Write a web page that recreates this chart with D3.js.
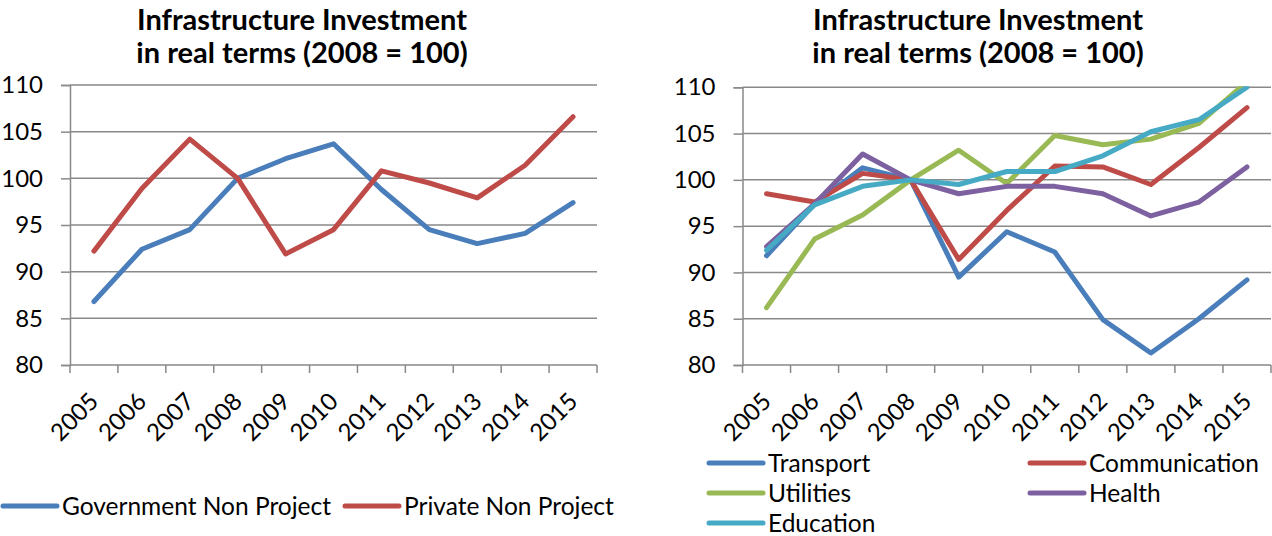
<!DOCTYPE html>
<html>
<head>
<meta charset="utf-8">
<script src="https://cdn.jsdelivr.net/npm/d3@7"></script>
<style>
  html, body { margin: 0; padding: 0; background: #fff; }
  svg { display: block; font-family: Lato, "Open Sans", sans-serif; }
</style>
</head>
<body>
<svg id="chart" width="1272" height="536"></svg>
<script>
// ---------- data ----------
const years = ["2005","2006","2007","2008","2009","2010","2011","2012","2013","2014","2015"];
const yTickValues = [80, 85, 90, 95, 100, 105, 110];
const titleLines = ["Infrastructure Investment", "in real terms (2008 = 100)"];

const governmentNonProject = [86.8, 92.4, 94.5, 100, 102.1, 103.7, 98.8, 94.5, 93.0, 94.1, 97.4];
const privateNonProject    = [92.2, 98.9, 104.2, 100, 91.9, 94.5, 100.8, 99.5, 97.9, 101.4, 106.6];

const transport     = [91.8, 97.4, 101.3, 100, 89.5, 94.4, 92.2, 84.9, 81.3, 85.0, 89.2];
const communication = [98.5, 97.6, 100.7, 100, 91.4, 96.7, 101.5, 101.4, 99.5, 103.5, 107.8];
const utilities     = [86.2, 93.6, 96.2, 100, 103.2, 99.6, 104.8, 103.8, 104.4, 106.1, 110.6];
const health        = [92.8, 97.4, 102.8, 100, 98.5, 99.3, 99.3, 98.5, 96.1, 97.6, 101.4];
const education     = [92.4, 97.3, 99.3, 100, 99.5, 100.9, 100.9, 102.6, 105.2, 106.5, 110.0];

const leftSeries = [
  { name: "Government Non Project", values: governmentNonProject, color: "#4A7EBB" },
  { name: "Private Non Project",    values: privateNonProject,    color: "#BE4B48" }
];
const rightSeries = [
  { name: "Transport",     values: transport,     color: "#4A7EBB" },
  { name: "Communication", values: communication, color: "#BE4B48" },
  { name: "Utilities",     values: utilities,     color: "#98B954" },
  { name: "Health",        values: health,        color: "#7D60A0" },
  { name: "Education",     values: education,     color: "#46AAC5" }
];

// ---------- drawing ----------
const svg = d3.select("#chart");
const GRID = "#898989";

function drawChart(cfg, id) {
  const g = svg.append("g");
  const x = d3.scaleBand().domain(years).range([cfg.left, cfg.right]).padding(0);
  const y = d3.scaleLinear().domain([80, 110]).range([cfg.bottom, cfg.top]);
  const cx = d => x(d) + x.bandwidth() / 2;

  // title
  const t = g.append("text")
    .attr("x", cfg.titleX).attr("text-anchor", "middle")
    .style("font-weight", "bold").style("font-size", "29px").attr("fill", "#000");
  t.append("tspan").attr("x", cfg.titleX).attr("y", 30).text(titleLines[0]);
  t.append("tspan").attr("x", cfg.titleX).attr("y", 63).text(titleLines[1]);

  // gridlines
  g.append("g").selectAll("line").data(yTickValues.filter(v => v !== 80)).join("line")
    .attr("x1", cfg.left).attr("x2", cfg.right)
    .attr("y1", d => y(d)).attr("y2", d => y(d))
    .attr("stroke", GRID).attr("stroke-width", 1.5);

  // y axis
  const yAxis = g.append("g").attr("transform", `translate(${cfg.left},0)`)
    .call(d3.axisLeft(y).tickValues(yTickValues).tickSize(9).tickPadding(18));
  yAxis.select(".domain").attr("stroke", GRID).attr("stroke-width", 1.5);
  yAxis.selectAll(".tick line").attr("stroke", GRID).attr("stroke-width", 1.5);
  yAxis.selectAll(".tick text").style("font-size", "24px").attr("fill", "#000")
    .style("font-family", "Lato, 'Open Sans', sans-serif");

  // x axis
  const xg = g.append("g");
  xg.append("line").attr("x1", cfg.left).attr("x2", cfg.right)
    .attr("y1", cfg.bottom).attr("y2", cfg.bottom)
    .attr("stroke", GRID).attr("stroke-width", 1.5);
  const bounds = years.map(d => x(d)).concat([x(years[years.length - 1]) + x.bandwidth()]);
  xg.selectAll("line.tk").data(bounds).join("line").attr("class", "tk")
    .attr("x1", d => d).attr("x2", d => d)
    .attr("y1", cfg.bottom).attr("y2", cfg.bottom + 8)
    .attr("stroke", GRID).attr("stroke-width", 1.5);
  xg.selectAll("text").data(years).join("text")
    .attr("transform", d => `translate(${cx(d) + 6},${cfg.bottom + 38}) rotate(-45)`)
    .attr("text-anchor", "end").style("font-size", "24px").attr("fill", "#000")
    .text(d => d);

  // clip
  svg.append("defs").append("clipPath").attr("id", id)
    .append("rect").attr("x", cfg.left).attr("y", cfg.top - 1)
    .attr("width", cfg.right - cfg.left).attr("height", cfg.bottom - cfg.top + 1);

  const line = d3.line().x((v, i) => cx(years[i])).y(v => y(v));
  g.append("g").attr("clip-path", `url(#${id})`)
    .selectAll("path").data(cfg.series).join("path")
    .attr("d", s => line(s.values))
    .attr("fill", "none").attr("stroke", s => s.color)
    .attr("stroke-width", 5).attr("stroke-linejoin", "round").attr("stroke-linecap", "round");

  // legend
  const lg = g.append("g");
  cfg.series.forEach((s, i) => {
    const p = cfg.legendPos[i];
    lg.append("line").attr("x1", p[0]).attr("x2", p[0] + 54)
      .attr("y1", p[1]).attr("y2", p[1])
      .attr("stroke", s.color).attr("stroke-width", 5).attr("stroke-linecap", "round");
    lg.append("text").attr("x", p[0] + 59).attr("y", p[1]).attr("dy", "0.36em")
      .style("font-size", "24.5px").attr("fill", "#000").text(s.name);
  });
}

drawChart({
  left: 70, right: 597, top: 85, bottom: 365, titleX: 302,
  series: leftSeries,
  legendPos: [[3, 506], [345, 506]]
}, "clipL");

drawChart({
  left: 742.5, right: 1271, top: 87.3, bottom: 365, titleX: 978,
  series: rightSeries,
  legendPos: [[709, 463], [1030, 463], [709, 493], [1030, 493], [709, 523]]
}, "clipR");
</script>
</body>
</html>
